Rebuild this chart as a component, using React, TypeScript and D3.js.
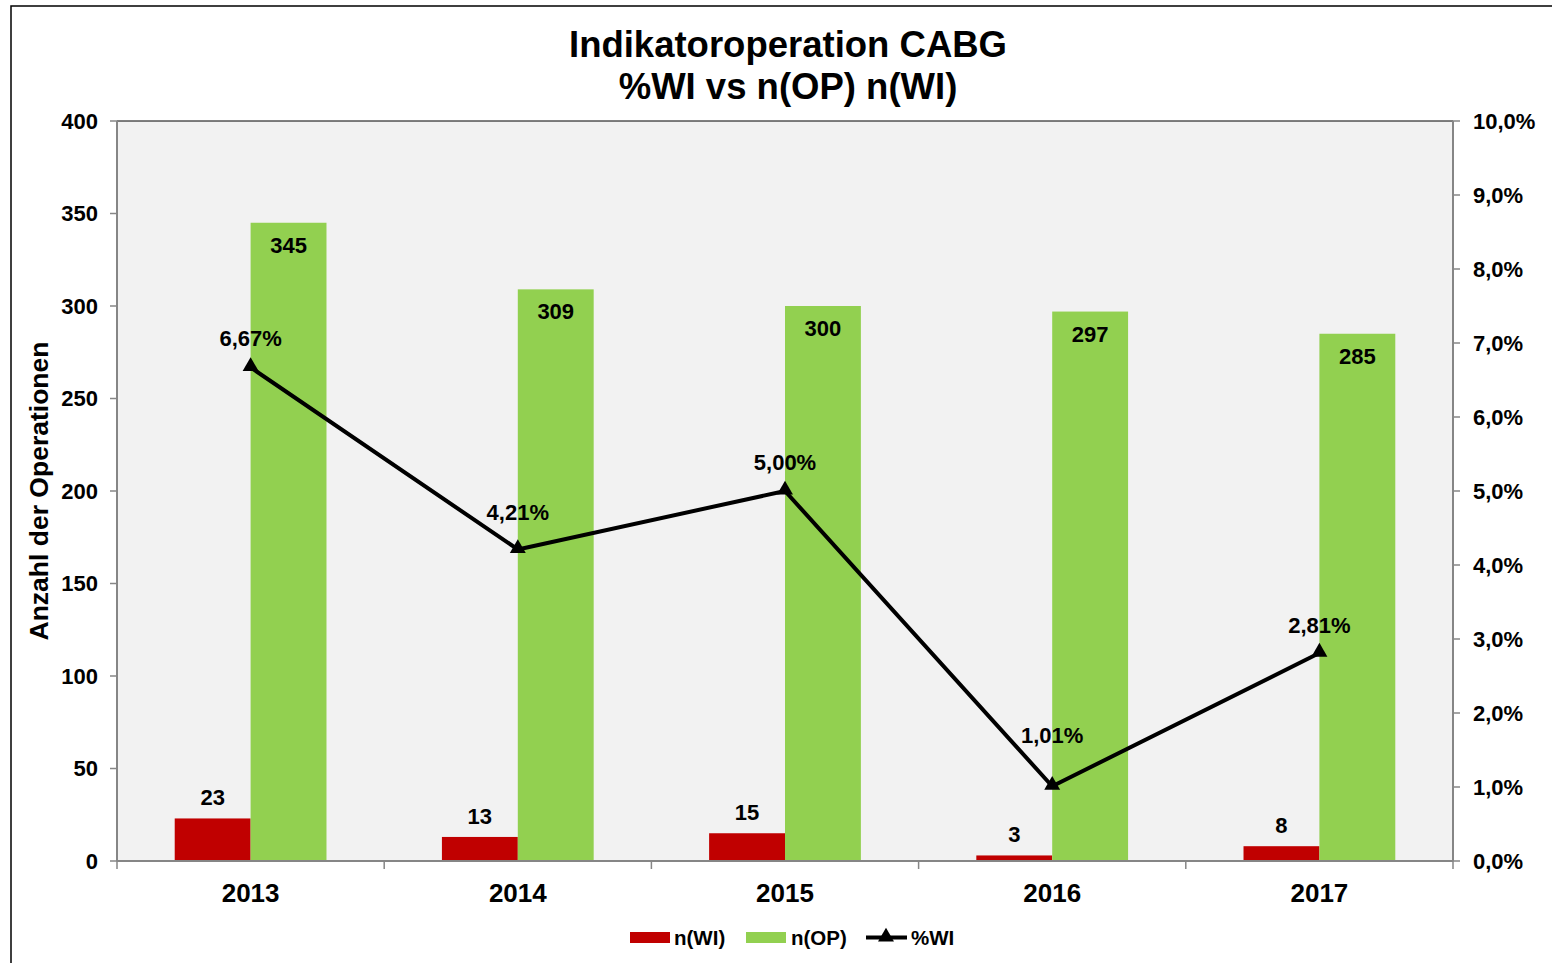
import React from "react";
import * as d3 from "d3";

const years = ["2013", "2014", "2015", "2016", "2017"];
const nWI = [23, 13, 15, 3, 8];
const nOP = [345, 309, 300, 297, 285];
const pctWI = [0.0667, 0.0421, 0.05, 0.0101, 0.0281];
const pctLabels = ["6,67%", "4,21%", "5,00%", "1,01%", "2,81%"];
const leftTicks = [0, 50, 100, 150, 200, 250, 300, 350, 400];
const rightTicks = [0, 0.01, 0.02, 0.03, 0.04, 0.05, 0.06, 0.07, 0.08, 0.09, 0.1];
// label vertical offsets above the line points (style)
const pctLabelDy = [-21, -29, -21, -43, -20];

const W = 1552;
const H = 963;
const plot = { left: 117, right: 1453, top: 121, bottom: 861 };
const FONT = "'Liberation Sans', Arial, sans-serif";
const RED = "#c00000";
const GREEN = "#92d050";
const AXIS = "#868686";

export default function App() {
  const x = d3.scaleBand<string>().domain(years).range([plot.left, plot.right]).padding(0);
  const yL = d3.scaleLinear().domain([0, 400]).range([plot.bottom, plot.top]);
  const yR = d3.scaleLinear().domain([0, 0.1]).range([plot.bottom, plot.top]);
  const bw = x.bandwidth() * 0.284;
  const cx = (y: string) => (x(y) as number) + x.bandwidth() / 2;
  const line = d3
    .line<number>()
    .x((_, i) => cx(years[i]))
    .y((d) => yR(d));
  const tri = d3.symbol().type(d3.symbolTriangle).size(110)() as string;
  const fmtR = (v: number) => (v * 100).toFixed(1).replace(".", ",") + "%";

  return (
    <svg
      width={W}
      height={H}
      style={{ position: "absolute", left: 0, top: 0, background: "#fff" }}
      fontFamily={FONT}
      fontWeight="bold"
    >
      <rect x={11} y={6} width={W + 20} height={H + 20} fill="#fff" stroke="#000" strokeWidth={1.5} />
      <text x={788} y={57} textAnchor="middle" fontSize={36.5}>
        Indikatoroperation CABG
      </text>
      <text x={788} y={99} textAnchor="middle" fontSize={36.5}>
        %WI vs n(OP) n(WI)
      </text>

      <rect
        x={plot.left}
        y={plot.top}
        width={plot.right - plot.left}
        height={plot.bottom - plot.top}
        fill="#f2f2f2"
      />
      <line x1={plot.left} x2={plot.right} y1={plot.top} y2={plot.top} stroke="#000" strokeWidth={1} />

      {/* bars */}
      {years.map((yr, i) => (
        <g key={yr}>
          <rect x={cx(yr) - bw} y={yL(nWI[i])} width={bw} height={yL(0) - yL(nWI[i])} fill={RED} />
          <rect x={cx(yr)} y={yL(nOP[i])} width={bw} height={yL(0) - yL(nOP[i])} fill={GREEN} />
          <text x={cx(yr) - bw / 2} y={yL(nWI[i]) - 13} textAnchor="middle" fontSize={22}>
            {nWI[i]}
          </text>
          <text x={cx(yr) + bw / 2} y={yL(nOP[i]) + 30} textAnchor="middle" fontSize={22}>
            {nOP[i]}
          </text>
        </g>
      ))}

      {/* axes */}
      <line x1={plot.left} x2={plot.left} y1={plot.top} y2={plot.bottom} stroke={AXIS} strokeWidth={2} />
      <line x1={plot.right} x2={plot.right} y1={plot.top} y2={plot.bottom} stroke={AXIS} strokeWidth={2} />
      <line x1={plot.left} x2={plot.right} y1={plot.bottom} y2={plot.bottom} stroke={AXIS} strokeWidth={2} />
      {leftTicks.map((t) => (
        <g key={"l" + t}>
          <line x1={plot.left - 7} x2={plot.left} y1={yL(t)} y2={yL(t)} stroke={AXIS} strokeWidth={1.5} />
          <text x={98} y={yL(t)} dy="0.36em" textAnchor="end" fontSize={22}>
            {t}
          </text>
        </g>
      ))}
      {rightTicks.map((t) => (
        <g key={"r" + t}>
          <line x1={plot.right} x2={plot.right + 7} y1={yR(t)} y2={yR(t)} stroke={AXIS} strokeWidth={1.5} />
          <text x={1473} y={yR(t)} dy="0.36em" textAnchor="start" fontSize={22}>
            {fmtR(t)}
          </text>
        </g>
      ))}
      {years.map((yr) => (
        <line
          key={"xt" + yr}
          x1={x(yr) as number}
          x2={x(yr) as number}
          y1={plot.bottom}
          y2={plot.bottom + 8}
          stroke={AXIS}
          strokeWidth={1.5}
        />
      ))}
      <line x1={plot.right} x2={plot.right} y1={plot.bottom} y2={plot.bottom + 8} stroke={AXIS} strokeWidth={1.5} />
      {years.map((yr) => (
        <text key={"xl" + yr} x={cx(yr)} y={902} textAnchor="middle" fontSize={26}>
          {yr}
        </text>
      ))}
      <text
        transform={`translate(48, ${(plot.top + plot.bottom) / 2}) rotate(-90)`}
        textAnchor="middle"
        fontSize={26.5}
      >
        Anzahl der Operationen
      </text>

      {/* line */}
      <path d={line(pctWI) as string} fill="none" stroke="#000" strokeWidth={4} strokeLinejoin="round" />
      {pctWI.map((v, i) => (
        <g key={"p" + i}>
          <path d={tri} transform={`translate(${cx(years[i])}, ${yR(v) - 1})`} fill="#000" />
          <text x={cx(years[i])} y={yR(v) + pctLabelDy[i]} textAnchor="middle" fontSize={22}>
            {pctLabels[i]}
          </text>
        </g>
      ))}

      {/* legend */}
      <rect x={630} y={932} width={40} height={11} fill={RED} />
      <text x={674} y={945} fontSize={20.5}>n(WI)</text>
      <rect x={746} y={932} width={40} height={11} fill={GREEN} />
      <text x={791} y={945} fontSize={20.5}>n(OP)</text>
      <line x1={866} x2={907} y1={937.5} y2={937.5} stroke="#000" strokeWidth={4} />
      <path d={tri} transform="translate(886, 937)" fill="#000" />
      <text x={911} y={945} fontSize={20.5}>%WI</text>
    </svg>
  );
}
